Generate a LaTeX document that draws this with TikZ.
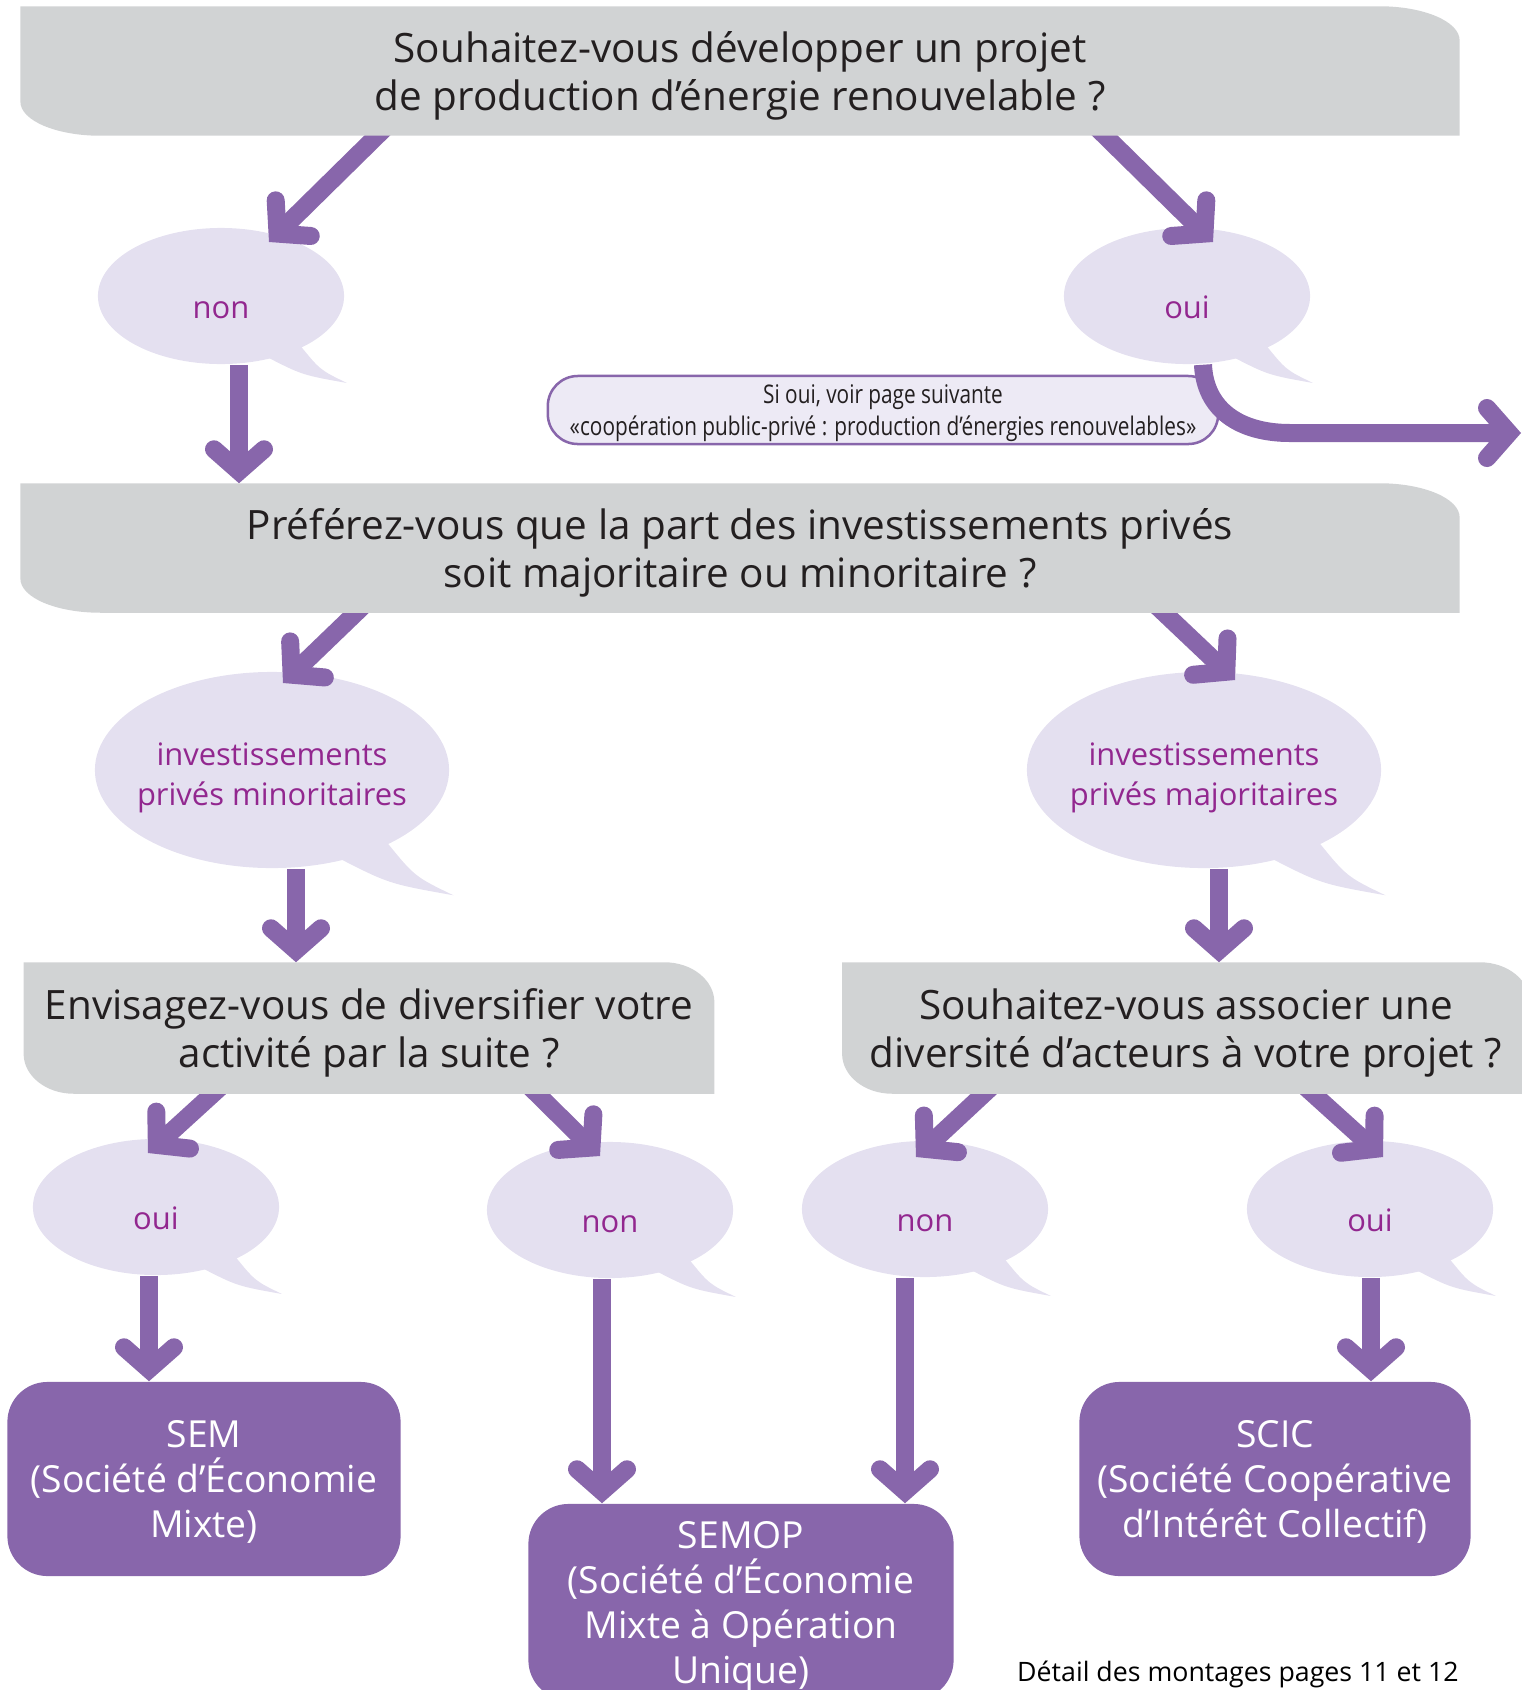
\documentclass[tikz,border=0pt]{standalone}
\usepackage{fontspec}
\setmainfont{Open Sans}
\newfontfamily\narrowfont[FakeStretch=0.81]{Open Sans}
\usetikzlibrary{positioning}
\usetikzlibrary{arrows.meta}
\usetikzlibrary{shapes.geometric}
\usetikzlibrary{backgrounds}
\usetikzlibrary{calc}
\pgfdeclarelayer{boxfill}
\pgfdeclarelayer{front}
\pgfsetlayers{background,main,boxfill,front}
\definecolor{boxgray}{RGB}{209,211,212}
\definecolor{bubblefill}{RGB}{228,224,240}
\definecolor{flowpurple}{RGB}{136,102,171}
\definecolor{answertext}{RGB}{146,39,143}
\definecolor{notefill}{RGB}{237,234,245}
\definecolor{darktext}{RGB}{35,31,32}
\tikzset{>={Straight Barb[length=2.2mm,width=5mm,line cap=round,line join=miter]}}
\tikzset{
  question/.style={rectangle, inner sep=0pt, align=center, text=darktext,
    font=\fontsize{11.5}{13.6}\selectfont, text depth=0pt},
  answer/.style={ellipse, fill=bubblefill, inner sep=0pt, align=center,
    text=answertext, minimum width=2.46cm, minimum height=1.36cm,
    font=\fontsize{8.8}{11.3}\selectfont},
  small answer/.style={answer, execute at begin node={\rule{0pt}{1.45em}}},
  big answer/.style={answer, inner xsep=-0.12cm, minimum width=3.54cm, minimum height=1.96cm,
    text height=20pt, text depth=0pt},
  result/.style={rectangle, rounded corners=0.4cm, fill=flowpurple, text=white,
    inner sep=0pt, align=center, minimum width=3.93cm, minimum height=1.94cm,
    font=\fontsize{10.6}{12.8}\selectfont, text depth=0pt},
  flow/.style={draw=flowpurple, line width=0.18cm, ->},
  from box/.style={shorten <=-0.3cm},
}
% grey question box, square top left and bottom right
\newcommand{\qshape}[3]{%
  \fill[boxgray] (#1.north west) -- ([xshift=-#2]#1.north east)
    arc[start angle=90, end angle=0, x radius=#2, y radius=#3]
    -- (#1.south east) -- ([xshift=#2]#1.south west)
    arc[start angle=270, end angle=180, x radius=#2, y radius=#3] -- cycle;}
% tail of a speech bubble, #2 = size factor
\newcommand{\bubtail}[2]{%
  \fill[bubblefill] ($(#1)+#2*(78,48)$) .. controls ($(#1)+#2*(99,74)$) ..
    ($(#1)+#2*(126,87)$) .. controls ($(#1)+#2*(81,79)$) ..
    ($(#1)+#2*(44,60)$) -- ($(#1)+#2*(30,30)$) -- cycle;}

\begin{document}
\begin{tikzpicture}[x=0.01cm, y=-0.01cm]
\useasboundingbox (0,0) rectangle (1522,1690);

% questions
\begin{pgfonlayer}{front}
\node (q1) [question, minimum width=14.37cm, minimum height=1.28cm] at (740,71)
  {Souhaitez-vous développer un projet\\de production d’énergie renouvelable ?};
\node (q2) [question, minimum width=14.37cm, minimum height=1.28cm] at (740,548)
  {Préférez-vous que la part des investissements privés\\soit majoritaire ou minoritaire ?};
\node (q3) [question, minimum width=6.89cm, minimum height=1.30cm] at (369,1028)
  {Envisagez-vous de diversifier votre\\activité par la suite ?};
\node (q4) [question, minimum width=6.86cm, minimum height=1.30cm] at (1186,1028)
  {Souhaitez-vous associer une\\diversité d’acteurs à votre projet ?};
\end{pgfonlayer}
\begin{pgfonlayer}{boxfill}
\qshape{q1}{0.8cm}{0.34cm}
\qshape{q2}{0.8cm}{0.34cm}
\qshape{q3}{0.5cm}{0.4cm}
\qshape{q4}{0.5cm}{0.4cm}
\end{pgfonlayer}

% answers
\begin{scope}[on background layer]
\node (n1) [small answer] at (221,296) {non};
\node (o1) [small answer] at (1187,296) {oui};
\node (m1) [big answer] at (272,770) {investissements\\privés minoritaires};
\node (m2) [big answer] at (1204,770) {investissements\\privés majoritaires};
\node (o2) [small answer] at (156,1207) {oui};
\node (n2) [small answer] at (610,1210) {non};
\node (n3) [small answer] at (925,1209) {non};
\node (o3) [small answer] at (1370,1209) {oui};
\bubtail{n1}{1}
\bubtail{o1}{1}
\bubtail{m1}{1.44}
\bubtail{m2}{1.44}
\bubtail{o2}{1}
\bubtail{n2}{1}
\bubtail{n3}{1}
\bubtail{o3}{1}
\end{scope}

\node (note) [rectangle, rounded corners=0.3cm, draw=flowpurple, line width=0.025cm,
  fill=notefill, minimum width=6.7cm, minimum height=0.68cm, inner sep=0pt,
  align=center, text=darktext, font=\narrowfont\fontsize{7.3}{9.1}\selectfont,
  text depth=-0.65pt] at (883,410)
  {Si oui, voir page suivante\\«coopération public-privé : production d’énergies renouvelables»};

% results
\node (sem) [result] at (204,1479) {SEM\\(Société d’Économie\\Mixte)};
\node (semop) [result, minimum width=4.25cm, minimum height=1.96cm] at (741,1602)
  {SEMOP\\(Société d’Économie\\Mixte à Opération\\Unique)};
\node (scic) [result, minimum width=3.91cm] at (1275,1479)
  {SCIC\\(Société Coopérative\\d’Intérêt Collectif)};

\node (detail) [anchor=east, text=black, font=\fontsize{7.6}{9}\selectfont] at (1471,1674)
  {Détail des montages pages 11 et 12};

% connectors
\coordinate (next) at (1521,433);
\draw[flow, from box] (377,0 |- q1.south) -- ($(n1)+(48,-54)$);
\draw[flow, from box] (1105,0 |- q1.south) -- ($(o1)+(26,-54)$);
\draw[flow] (1203,0 |- o1.south) .. controls (1205,410) and (1240,433) .. (1290,433) -- (next);
\draw[flow] (239,0 |- n1.south) -- (239,0 |- q2.north);
\draw[flow, from box] (356,0 |- q2.south) -- ($(m1)+(11,-87)$);
\draw[flow, from box] (1164,0 |- q2.south) -- ($(m2)+(31,-90)$);
\draw[flow] (296,0 |- m1.south) -- (296,0 |- q3.north);
\draw[flow] (1219,0 |- m2.south) -- (1219,0 |- q4.north);
\draw[flow, from box] (213,0 |- q3.south) -- ($(o2)+(-8,-54)$);
\draw[flow, from box] (537,0 |- q3.south) -- ($(n2)+(-10,-54)$);
\draw[flow, from box] (984,0 |- q4.south) -- ($(n3)+(-9,-52)$);
\draw[flow, from box] (1313,0 |- q4.south) -- ($(o3)+(13,-52)$);
\draw[flow] (149,0 |- o2.south) -- (149,0 |- sem.north);
\draw[flow] (602,0 |- n2.south) -- (602,0 |- semop.north);
\draw[flow] (905,0 |- n3.south) -- (905,0 |- semop.north);
\draw[flow] (1371,0 |- o3.south) -- (1371,0 |- scic.north);
\end{tikzpicture}
\end{document}
